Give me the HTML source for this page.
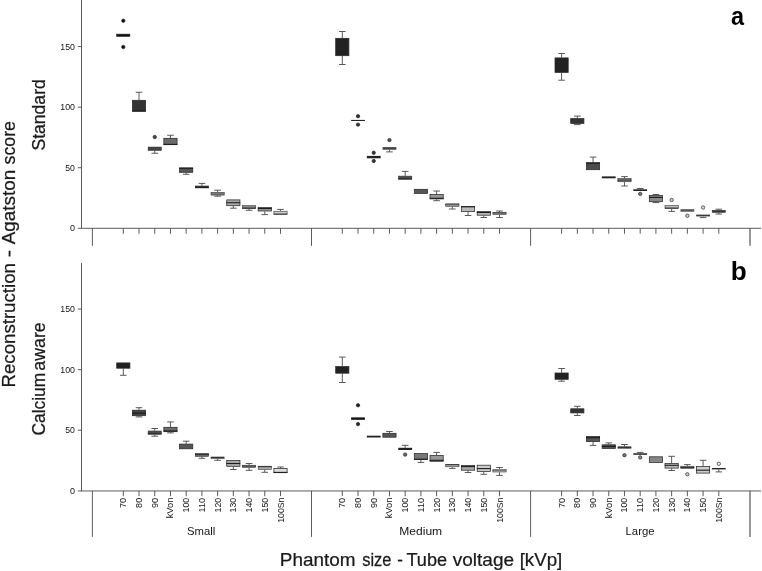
<!DOCTYPE html>
<html><head><meta charset="utf-8"><title>Figure</title>
<style>
html,body{margin:0;padding:0;background:#fff}
svg{display:block}
text{font-family:"Liberation Sans",sans-serif;fill:#222}
.a{stroke:#4a4a4a;stroke-width:0.9;fill:none}
.w{stroke:#484848;stroke-width:0.9;fill:none}
.t{fill:#151515}
.big{fill:#1a1a1a;stroke:#1a1a1a;stroke-width:0.25}
.ab{font-weight:bold;fill:#000}
</style></head><body>
<svg width="762" height="571" viewBox="0 0 762 571">
<rect width="762" height="571" fill="#fff"/>
<path d="M81.5 0V228.3H761" class="a"/>
<path d="M81.5 263V491" class="a"/>
<path d="M81 490.95H761" class="a"/>
<path d="M77.8 228.30H81.5" class="a"/>
<text transform="translate(69.94 231.40) scale(0.9580 1)" font-size="9.4" class="t">0</text>
<path d="M77.8 167.73H81.5" class="a"/>
<text transform="translate(65.25 170.83) scale(0.9273 1)" font-size="9.4" class="t">50</text>
<path d="M77.8 107.16H81.5" class="a"/>
<text transform="translate(60.24 110.26) scale(0.9373 1)" font-size="9.4" class="t">100</text>
<path d="M77.8 46.59H81.5" class="a"/>
<text transform="translate(60.24 49.69) scale(0.9373 1)" font-size="9.4" class="t">150</text>
<path d="M77.8 490.95H81.5" class="a"/>
<text transform="translate(69.94 493.90) scale(0.9580 1)" font-size="9.4" class="t">0</text>
<path d="M77.8 430.23H81.5" class="a"/>
<text transform="translate(65.25 433.33) scale(0.9273 1)" font-size="9.4" class="t">50</text>
<path d="M77.8 369.66H81.5" class="a"/>
<text transform="translate(60.24 372.76) scale(0.9373 1)" font-size="9.4" class="t">100</text>
<path d="M77.8 309.09H81.5" class="a"/>
<text transform="translate(60.24 312.19) scale(0.9373 1)" font-size="9.4" class="t">150</text>
<path d="M123.30 228.3V233.8" class="a"/>
<path d="M123.30 491V496.2" class="a"/>
<text transform="translate(126.30 507.98) rotate(-90) scale(0.9304 1)" font-size="9.8" class="t">70</text>
<path d="M139.02 228.3V233.8" class="a"/>
<path d="M139.02 491V496.2" class="a"/>
<text transform="translate(142.02 507.88) rotate(-90) scale(0.9213 1)" font-size="9.8" class="t">80</text>
<path d="M154.74 228.3V233.8" class="a"/>
<path d="M154.74 491V496.2" class="a"/>
<text transform="translate(157.74 507.93) rotate(-90) scale(0.9258 1)" font-size="9.8" class="t">90</text>
<path d="M170.46 228.3V233.8" class="a"/>
<path d="M170.46 491V496.2" class="a"/>
<text transform="translate(173.46 518.33) rotate(-90) scale(0.9521 1)" font-size="9.8" class="t">kVon</text>
<path d="M186.18 228.3V233.8" class="a"/>
<path d="M186.18 491V496.2" class="a"/>
<text transform="translate(189.18 512.46) rotate(-90) scale(0.8924 1)" font-size="9.8" class="t">100</text>
<path d="M201.90 228.3V233.8" class="a"/>
<path d="M201.90 491V496.2" class="a"/>
<text transform="translate(204.90 512.49) rotate(-90) scale(0.9377 1)" font-size="9.8" class="t">110</text>
<path d="M217.62 228.3V233.8" class="a"/>
<path d="M217.62 491V496.2" class="a"/>
<text transform="translate(220.62 512.46) rotate(-90) scale(0.8924 1)" font-size="9.8" class="t">120</text>
<path d="M233.34 228.3V233.8" class="a"/>
<path d="M233.34 491V496.2" class="a"/>
<text transform="translate(236.34 512.46) rotate(-90) scale(0.8924 1)" font-size="9.8" class="t">130</text>
<path d="M249.06 228.3V233.8" class="a"/>
<path d="M249.06 491V496.2" class="a"/>
<text transform="translate(252.06 512.46) rotate(-90) scale(0.8924 1)" font-size="9.8" class="t">140</text>
<path d="M264.78 228.3V233.8" class="a"/>
<path d="M264.78 491V496.2" class="a"/>
<text transform="translate(267.78 512.46) rotate(-90) scale(0.8924 1)" font-size="9.8" class="t">150</text>
<path d="M280.50 228.3V233.8" class="a"/>
<path d="M280.50 491V496.2" class="a"/>
<text transform="translate(283.50 522.75) rotate(-90) scale(0.8868 1)" font-size="9.8" class="t">100Sn</text>
<path d="M342.30 228.3V233.8" class="a"/>
<path d="M342.30 491V496.2" class="a"/>
<text transform="translate(345.30 507.98) rotate(-90) scale(0.9304 1)" font-size="9.8" class="t">70</text>
<path d="M358.02 228.3V233.8" class="a"/>
<path d="M358.02 491V496.2" class="a"/>
<text transform="translate(361.02 507.88) rotate(-90) scale(0.9213 1)" font-size="9.8" class="t">80</text>
<path d="M373.74 228.3V233.8" class="a"/>
<path d="M373.74 491V496.2" class="a"/>
<text transform="translate(376.74 507.93) rotate(-90) scale(0.9258 1)" font-size="9.8" class="t">90</text>
<path d="M389.46 228.3V233.8" class="a"/>
<path d="M389.46 491V496.2" class="a"/>
<text transform="translate(392.46 518.33) rotate(-90) scale(0.9521 1)" font-size="9.8" class="t">kVon</text>
<path d="M405.18 228.3V233.8" class="a"/>
<path d="M405.18 491V496.2" class="a"/>
<text transform="translate(408.18 512.46) rotate(-90) scale(0.8924 1)" font-size="9.8" class="t">100</text>
<path d="M420.90 228.3V233.8" class="a"/>
<path d="M420.90 491V496.2" class="a"/>
<text transform="translate(423.90 512.49) rotate(-90) scale(0.9377 1)" font-size="9.8" class="t">110</text>
<path d="M436.62 228.3V233.8" class="a"/>
<path d="M436.62 491V496.2" class="a"/>
<text transform="translate(439.62 512.46) rotate(-90) scale(0.8924 1)" font-size="9.8" class="t">120</text>
<path d="M452.34 228.3V233.8" class="a"/>
<path d="M452.34 491V496.2" class="a"/>
<text transform="translate(455.34 512.46) rotate(-90) scale(0.8924 1)" font-size="9.8" class="t">130</text>
<path d="M468.06 228.3V233.8" class="a"/>
<path d="M468.06 491V496.2" class="a"/>
<text transform="translate(471.06 512.46) rotate(-90) scale(0.8924 1)" font-size="9.8" class="t">140</text>
<path d="M483.78 228.3V233.8" class="a"/>
<path d="M483.78 491V496.2" class="a"/>
<text transform="translate(486.78 512.46) rotate(-90) scale(0.8924 1)" font-size="9.8" class="t">150</text>
<path d="M499.50 228.3V233.8" class="a"/>
<path d="M499.50 491V496.2" class="a"/>
<text transform="translate(502.50 522.75) rotate(-90) scale(0.8868 1)" font-size="9.8" class="t">100Sn</text>
<path d="M561.60 228.3V233.8" class="a"/>
<path d="M561.60 491V496.2" class="a"/>
<text transform="translate(564.60 507.98) rotate(-90) scale(0.9304 1)" font-size="9.8" class="t">70</text>
<path d="M577.32 228.3V233.8" class="a"/>
<path d="M577.32 491V496.2" class="a"/>
<text transform="translate(580.32 507.88) rotate(-90) scale(0.9213 1)" font-size="9.8" class="t">80</text>
<path d="M593.04 228.3V233.8" class="a"/>
<path d="M593.04 491V496.2" class="a"/>
<text transform="translate(596.04 507.93) rotate(-90) scale(0.9258 1)" font-size="9.8" class="t">90</text>
<path d="M608.76 228.3V233.8" class="a"/>
<path d="M608.76 491V496.2" class="a"/>
<text transform="translate(611.76 518.33) rotate(-90) scale(0.9521 1)" font-size="9.8" class="t">kVon</text>
<path d="M624.48 228.3V233.8" class="a"/>
<path d="M624.48 491V496.2" class="a"/>
<text transform="translate(627.48 512.46) rotate(-90) scale(0.8924 1)" font-size="9.8" class="t">100</text>
<path d="M640.20 228.3V233.8" class="a"/>
<path d="M640.20 491V496.2" class="a"/>
<text transform="translate(643.20 512.49) rotate(-90) scale(0.9377 1)" font-size="9.8" class="t">110</text>
<path d="M655.92 228.3V233.8" class="a"/>
<path d="M655.92 491V496.2" class="a"/>
<text transform="translate(658.92 512.46) rotate(-90) scale(0.8924 1)" font-size="9.8" class="t">120</text>
<path d="M671.64 228.3V233.8" class="a"/>
<path d="M671.64 491V496.2" class="a"/>
<text transform="translate(674.64 512.46) rotate(-90) scale(0.8924 1)" font-size="9.8" class="t">130</text>
<path d="M687.36 228.3V233.8" class="a"/>
<path d="M687.36 491V496.2" class="a"/>
<text transform="translate(690.36 512.46) rotate(-90) scale(0.8924 1)" font-size="9.8" class="t">140</text>
<path d="M703.08 228.3V233.8" class="a"/>
<path d="M703.08 491V496.2" class="a"/>
<text transform="translate(706.08 512.46) rotate(-90) scale(0.8924 1)" font-size="9.8" class="t">150</text>
<path d="M718.80 228.3V233.8" class="a"/>
<path d="M718.80 491V496.2" class="a"/>
<text transform="translate(721.80 522.75) rotate(-90) scale(0.8868 1)" font-size="9.8" class="t">100Sn</text>
<path d="M92.4 228.3V245.8" class="a"/>
<path d="M92.4 491V536.9" class="a"/>
<path d="M311.5 228.3V245.8" class="a"/>
<path d="M311.5 491V536.9" class="a"/>
<path d="M530.6 228.3V245.8" class="a"/>
<path d="M530.6 491V536.9" class="a"/>
<path d="M750.0 228.3V245.8" class="a" style="stroke:#555;stroke-width:1.2"/>
<path d="M750.0 491V536.9" class="a" style="stroke:#555;stroke-width:1.2"/>
<text transform="translate(187.09 534.90) scale(0.9834 1)" font-size="11.5" class="t">Small</text>
<text transform="translate(399.30 534.90) scale(1.0488 1)" font-size="11.5" class="t">Medium</text>
<text transform="translate(625.56 534.90) scale(0.9866 1)" font-size="11.5" class="t">Large</text>
<rect x="116.70" y="34.10" width="13.20" height="2.40" fill="#111" stroke="#2a2a2a" stroke-width="0.55"/>
<circle cx="123.30" cy="20.75" r="1.7" fill="#111" stroke="#2a2a2a" stroke-width="0.7"/>
<circle cx="123.30" cy="47.00" r="1.7" fill="#111" stroke="#2a2a2a" stroke-width="0.7"/>
<path d="M139.02 100.00V92.25M135.72 92.25H142.32" class="w"/>
<rect x="132.42" y="100.30" width="13.20" height="10.90" fill="#333" stroke="#2a2a2a" stroke-width="0.75"/>
<path d="M132.12 111.00H145.92" stroke="#1c1c1c" stroke-width="1.1"/>
<path d="M154.74 150.75V153.25M151.44 153.25H158.04" class="w"/>
<rect x="148.14" y="147.05" width="13.20" height="3.40" fill="#444" stroke="#2a2a2a" stroke-width="0.55"/>
<circle cx="154.74" cy="137.00" r="1.7" fill="#444" stroke="#2a2a2a" stroke-width="0.7"/>
<path d="M170.46 138.00V135.25M167.16 135.25H173.76" class="w"/>
<rect x="163.86" y="138.30" width="13.20" height="6.40" fill="#6a6a6a" stroke="#2a2a2a" stroke-width="0.75"/>
<path d="M163.56 144.40H177.36" stroke="#1c1c1c" stroke-width="1.1"/>
<path d="M186.18 172.60V174.30M182.88 174.30H189.48" class="w"/>
<rect x="179.58" y="167.90" width="13.20" height="4.40" fill="#555" stroke="#2a2a2a" stroke-width="0.75"/>
<path d="M179.28 168.30H193.08" stroke="#1c1c1c" stroke-width="1.1"/>
<path d="M201.90 185.70V183.40M198.60 183.40H205.20" class="w"/>
<rect x="195.00" y="185.70" width="13.8" height="2.50" fill="#333"/>
<path d="M195.00 187.50H208.80" stroke="#1c1c1c" stroke-width="0.8"/>
<path d="M217.62 192.20V190.20M214.32 190.20H220.92" class="w"/>
<path d="M217.62 195.40V196.20M214.32 196.20H220.92" class="w"/>
<rect x="211.02" y="192.50" width="13.20" height="2.60" fill="#777" stroke="#2a2a2a" stroke-width="0.55"/>
<path d="M233.34 206.00V208.20M230.04 208.20H236.64" class="w"/>
<rect x="226.74" y="199.90" width="13.20" height="5.80" fill="#aaa" stroke="#2a2a2a" stroke-width="0.75"/>
<path d="M226.44 202.70H240.24" stroke="#1c1c1c" stroke-width="1.1"/>
<path d="M249.06 208.90V210.30M245.76 210.30H252.36" class="w"/>
<rect x="242.46" y="205.70" width="13.20" height="2.90" fill="#888" stroke="#2a2a2a" stroke-width="0.55"/>
<path d="M242.16 208.10H255.96" stroke="#1c1c1c" stroke-width="0.8"/>
<path d="M264.78 211.30V214.60M261.48 214.60H268.08" class="w"/>
<rect x="258.18" y="207.50" width="13.20" height="3.50" fill="#999" stroke="#2a2a2a" stroke-width="0.75"/>
<path d="M257.88 208.50H271.68" stroke="#1c1c1c" stroke-width="1.1"/>
<path d="M280.50 210.90V209.40M277.20 209.40H283.80" class="w"/>
<rect x="273.90" y="211.20" width="13.20" height="3.10" fill="#ccc" stroke="#2a2a2a" stroke-width="0.55"/>
<path d="M273.60 214.00H287.40" stroke="#1c1c1c" stroke-width="0.8"/>
<path d="M342.30 38.00V31.50M339.00 31.50H345.60" class="w"/>
<path d="M342.30 56.00V64.50M339.00 64.50H345.60" class="w"/>
<rect x="335.70" y="38.30" width="13.20" height="17.40" fill="#222" stroke="#2a2a2a" stroke-width="0.75"/>
<rect x="351.12" y="119.90" width="13.8" height="1.10" fill="#222"/>
<circle cx="358.02" cy="116.20" r="1.7" fill="#333" stroke="#2a2a2a" stroke-width="0.7"/>
<circle cx="358.02" cy="124.60" r="1.7" fill="#333" stroke="#2a2a2a" stroke-width="0.7"/>
<rect x="366.84" y="155.90" width="13.8" height="2.40" fill="#222"/>
<circle cx="373.74" cy="152.80" r="1.7" fill="#333" stroke="#2a2a2a" stroke-width="0.7"/>
<circle cx="373.74" cy="161.00" r="1.7" fill="#333" stroke="#2a2a2a" stroke-width="0.7"/>
<path d="M389.46 149.70V151.90M386.16 151.90H392.76" class="w"/>
<rect x="382.56" y="147.10" width="13.8" height="2.60" fill="#444"/>
<circle cx="389.46" cy="140.10" r="1.7" fill="#555" stroke="#2a2a2a" stroke-width="0.7"/>
<path d="M405.18 175.80V171.40M401.88 171.40H408.48" class="w"/>
<rect x="398.58" y="176.10" width="13.20" height="3.40" fill="#555" stroke="#2a2a2a" stroke-width="0.55"/>
<path d="M398.28 178.30H412.08" stroke="#1c1c1c" stroke-width="0.8"/>
<rect x="414.30" y="189.30" width="13.20" height="4.10" fill="#555" stroke="#2a2a2a" stroke-width="0.75"/>
<path d="M436.62 194.20V191.00M433.32 191.00H439.92" class="w"/>
<path d="M436.62 199.20V200.70M433.32 200.70H439.92" class="w"/>
<rect x="430.02" y="194.50" width="13.20" height="4.40" fill="#999" stroke="#2a2a2a" stroke-width="0.75"/>
<path d="M429.72 198.30H443.52" stroke="#1c1c1c" stroke-width="1.1"/>
<path d="M452.34 206.80V209.00M449.04 209.00H455.64" class="w"/>
<rect x="445.74" y="203.80" width="13.20" height="2.70" fill="#bbb" stroke="#2a2a2a" stroke-width="0.55"/>
<path d="M445.44 204.80H459.24" stroke="#1c1c1c" stroke-width="0.8"/>
<path d="M468.06 211.80V215.50M464.76 215.50H471.36" class="w"/>
<rect x="461.46" y="206.40" width="13.20" height="5.10" fill="#bbb" stroke="#2a2a2a" stroke-width="0.75"/>
<path d="M461.16 206.80H474.96" stroke="#1c1c1c" stroke-width="1.1"/>
<path d="M483.78 215.50V217.50M480.48 217.50H487.08" class="w"/>
<rect x="477.18" y="211.60" width="13.20" height="3.60" fill="#bbb" stroke="#2a2a2a" stroke-width="0.75"/>
<path d="M476.88 212.50H490.68" stroke="#1c1c1c" stroke-width="1.1"/>
<path d="M499.50 212.00V211.00M496.20 211.00H502.80" class="w"/>
<path d="M499.50 214.80V217.50M496.20 217.50H502.80" class="w"/>
<rect x="492.90" y="212.30" width="13.20" height="2.20" fill="#bbb" stroke="#2a2a2a" stroke-width="0.55"/>
<path d="M492.60 213.10H506.40" stroke="#1c1c1c" stroke-width="0.8"/>
<path d="M561.60 57.60V53.50M558.30 53.50H564.90" class="w"/>
<path d="M561.60 72.70V80.20M558.30 80.20H564.90" class="w"/>
<rect x="555.00" y="57.90" width="13.20" height="14.50" fill="#222" stroke="#2a2a2a" stroke-width="0.75"/>
<path d="M577.32 118.30V116.10M574.02 116.10H580.62" class="w"/>
<path d="M577.32 123.80V124.60M574.02 124.60H580.62" class="w"/>
<rect x="570.72" y="118.60" width="13.20" height="4.90" fill="#333" stroke="#2a2a2a" stroke-width="0.75"/>
<path d="M593.04 162.40V157.10M589.74 157.10H596.34" class="w"/>
<rect x="586.44" y="162.70" width="13.20" height="7.00" fill="#4a4a4a" stroke="#2a2a2a" stroke-width="0.75"/>
<path d="M586.14 163.20H599.94" stroke="#1c1c1c" stroke-width="1.1"/>
<rect x="601.86" y="176.40" width="13.8" height="1.90" fill="#222"/>
<path d="M624.48 178.30V176.60M621.18 176.60H627.78" class="w"/>
<path d="M624.48 182.10V186.00M621.18 186.00H627.78" class="w"/>
<rect x="617.88" y="178.60" width="13.20" height="3.20" fill="#888" stroke="#2a2a2a" stroke-width="0.55"/>
<path d="M617.58 180.10H631.38" stroke="#1c1c1c" stroke-width="0.8"/>
<path d="M640.20 189.30V188.50M636.90 188.50H643.50" class="w"/>
<rect x="633.30" y="189.30" width="13.8" height="1.70" fill="#222"/>
<circle cx="640.20" cy="193.90" r="1.7" fill="#777" stroke="#2a2a2a" stroke-width="0.7"/>
<path d="M655.92 195.20V194.50M652.62 194.50H659.22" class="w"/>
<path d="M655.92 202.00V202.60M652.62 202.60H659.22" class="w"/>
<rect x="649.32" y="195.50" width="13.20" height="6.20" fill="#888" stroke="#2a2a2a" stroke-width="0.75"/>
<path d="M649.02 197.40H662.82" stroke="#1c1c1c" stroke-width="1.1"/>
<path d="M671.64 209.00V211.40M668.34 211.40H674.94" class="w"/>
<rect x="665.04" y="205.60" width="13.20" height="3.10" fill="#bbb" stroke="#2a2a2a" stroke-width="0.55"/>
<path d="M664.74 208.00H678.54" stroke="#1c1c1c" stroke-width="0.8"/>
<circle cx="671.64" cy="200.00" r="1.7" fill="#ccc" stroke="#2a2a2a" stroke-width="0.7"/>
<rect x="680.46" y="209.20" width="13.8" height="2.50" fill="#555"/>
<circle cx="687.36" cy="215.80" r="1.7" fill="#ccc" stroke="#2a2a2a" stroke-width="0.7"/>
<path d="M703.08 216.70V217.60M699.78 217.60H706.38" class="w"/>
<rect x="696.18" y="214.50" width="13.8" height="2.20" fill="#888"/>
<path d="M696.18 215.40H709.98" stroke="#1c1c1c" stroke-width="0.8"/>
<circle cx="703.08" cy="207.50" r="1.7" fill="#ddd" stroke="#2a2a2a" stroke-width="0.7"/>
<path d="M718.80 210.00V209.20M715.50 209.20H722.10" class="w"/>
<path d="M718.80 212.70V214.00M715.50 214.00H722.10" class="w"/>
<rect x="712.20" y="210.30" width="13.20" height="2.10" fill="#3a3a3a" stroke="#2a2a2a" stroke-width="0.55"/>
<path d="M123.30 368.50V375.30M120.00 375.30H126.60" class="w"/>
<rect x="116.70" y="362.90" width="13.20" height="5.30" fill="#222" stroke="#2a2a2a" stroke-width="0.75"/>
<path d="M139.02 409.90V407.70M135.72 407.70H142.32" class="w"/>
<path d="M139.02 416.00V416.90M135.72 416.90H142.32" class="w"/>
<rect x="132.42" y="410.20" width="13.20" height="5.50" fill="#444" stroke="#2a2a2a" stroke-width="0.75"/>
<path d="M132.12 413.20H145.92" stroke="#1c1c1c" stroke-width="1.1"/>
<path d="M154.74 430.70V428.50M151.44 428.50H158.04" class="w"/>
<path d="M154.74 434.70V436.20M151.44 436.20H158.04" class="w"/>
<rect x="148.14" y="431.00" width="13.20" height="3.40" fill="#555" stroke="#2a2a2a" stroke-width="0.55"/>
<path d="M147.84 433.30H161.64" stroke="#1c1c1c" stroke-width="0.8"/>
<path d="M170.46 427.00V421.90M167.16 421.90H173.76" class="w"/>
<path d="M170.46 432.00V432.90M167.16 432.90H173.76" class="w"/>
<rect x="163.86" y="427.30" width="13.20" height="4.40" fill="#6a6a6a" stroke="#2a2a2a" stroke-width="0.75"/>
<path d="M163.56 431.00H177.36" stroke="#1c1c1c" stroke-width="1.1"/>
<path d="M186.18 443.80V441.20M182.88 441.20H189.48" class="w"/>
<rect x="179.58" y="444.10" width="13.20" height="4.70" fill="#555" stroke="#2a2a2a" stroke-width="0.75"/>
<path d="M201.90 456.70V458.30M198.60 458.30H205.20" class="w"/>
<rect x="195.30" y="453.60" width="13.20" height="2.80" fill="#666" stroke="#2a2a2a" stroke-width="0.55"/>
<path d="M195.00 454.30H208.80" stroke="#1c1c1c" stroke-width="0.8"/>
<path d="M217.62 458.70V460.30M214.32 460.30H220.92" class="w"/>
<rect x="210.72" y="456.70" width="13.8" height="2.00" fill="#333"/>
<path d="M233.34 466.60V469.50M230.04 469.50H236.64" class="w"/>
<rect x="226.74" y="460.50" width="13.20" height="5.80" fill="#aaa" stroke="#2a2a2a" stroke-width="0.75"/>
<path d="M226.44 463.50H240.24" stroke="#1c1c1c" stroke-width="1.1"/>
<path d="M249.06 464.90V463.50M245.76 463.50H252.36" class="w"/>
<path d="M249.06 467.70V470.30M245.76 470.30H252.36" class="w"/>
<rect x="242.46" y="465.20" width="13.20" height="2.20" fill="#999" stroke="#2a2a2a" stroke-width="0.55"/>
<path d="M242.16 466.20H255.96" stroke="#1c1c1c" stroke-width="0.8"/>
<path d="M264.78 469.70V472.30M261.48 472.30H268.08" class="w"/>
<rect x="258.18" y="466.20" width="13.20" height="3.20" fill="#aaa" stroke="#2a2a2a" stroke-width="0.55"/>
<path d="M257.88 466.70H271.68" stroke="#1c1c1c" stroke-width="0.8"/>
<path d="M280.50 468.20V467.00M277.20 467.00H283.80" class="w"/>
<rect x="273.90" y="468.50" width="13.20" height="4.20" fill="#ddd" stroke="#2a2a2a" stroke-width="0.75"/>
<path d="M273.60 472.40H287.40" stroke="#1c1c1c" stroke-width="1.1"/>
<path d="M342.30 366.30V357.10M339.00 357.10H345.60" class="w"/>
<path d="M342.30 373.50V382.50M339.00 382.50H345.60" class="w"/>
<rect x="335.70" y="366.60" width="13.20" height="6.60" fill="#222" stroke="#2a2a2a" stroke-width="0.75"/>
<rect x="351.12" y="417.40" width="13.8" height="2.40" fill="#111"/>
<circle cx="358.02" cy="405.30" r="1.7" fill="#222" stroke="#2a2a2a" stroke-width="0.7"/>
<circle cx="358.02" cy="424.10" r="1.7" fill="#222" stroke="#2a2a2a" stroke-width="0.7"/>
<rect x="366.84" y="435.70" width="13.8" height="1.80" fill="#222"/>
<path d="M389.46 433.00V431.50M386.16 431.50H392.76" class="w"/>
<rect x="382.86" y="433.30" width="13.20" height="3.90" fill="#555" stroke="#2a2a2a" stroke-width="0.75"/>
<path d="M405.18 447.80V445.30M401.88 445.30H408.48" class="w"/>
<rect x="398.28" y="447.80" width="13.8" height="2.20" fill="#222"/>
<circle cx="405.18" cy="454.60" r="1.7" fill="#666" stroke="#2a2a2a" stroke-width="0.7"/>
<path d="M420.90 459.80V462.40M417.60 462.40H424.20" class="w"/>
<rect x="414.30" y="453.60" width="13.20" height="5.90" fill="#777" stroke="#2a2a2a" stroke-width="0.75"/>
<path d="M414.00 459.20H427.80" stroke="#1c1c1c" stroke-width="1.1"/>
<path d="M436.62 455.20V452.40M433.32 452.40H439.92" class="w"/>
<rect x="430.02" y="455.50" width="13.20" height="5.80" fill="#999" stroke="#2a2a2a" stroke-width="0.75"/>
<path d="M429.72 460.30H443.52" stroke="#1c1c1c" stroke-width="1.1"/>
<path d="M452.34 467.10V468.40M449.04 468.40H455.64" class="w"/>
<rect x="445.74" y="464.30" width="13.20" height="2.50" fill="#bbb" stroke="#2a2a2a" stroke-width="0.55"/>
<path d="M445.44 464.80H459.24" stroke="#1c1c1c" stroke-width="0.8"/>
<path d="M468.06 470.50V472.50M464.76 472.50H471.36" class="w"/>
<rect x="461.46" y="465.40" width="13.20" height="4.80" fill="#aaa" stroke="#2a2a2a" stroke-width="0.75"/>
<path d="M461.16 466.60H474.96" stroke="#1c1c1c" stroke-width="1.1"/>
<path d="M483.78 471.90V474.30M480.48 474.30H487.08" class="w"/>
<rect x="477.18" y="465.20" width="13.20" height="6.40" fill="#ccc" stroke="#2a2a2a" stroke-width="0.75"/>
<path d="M476.88 468.60H490.68" stroke="#1c1c1c" stroke-width="1.1"/>
<path d="M499.50 469.20V467.50M496.20 467.50H502.80" class="w"/>
<path d="M499.50 472.30V475.40M496.20 475.40H502.80" class="w"/>
<rect x="492.90" y="469.50" width="13.20" height="2.50" fill="#eee" stroke="#2a2a2a" stroke-width="0.55"/>
<path d="M492.60 470.80H506.40" stroke="#1c1c1c" stroke-width="0.8"/>
<path d="M561.60 372.70V368.50M558.30 368.50H564.90" class="w"/>
<path d="M561.60 379.60V381.20M558.30 381.20H564.90" class="w"/>
<rect x="555.00" y="373.00" width="13.20" height="6.30" fill="#222" stroke="#2a2a2a" stroke-width="0.75"/>
<path d="M577.32 408.50V406.30M574.02 406.30H580.62" class="w"/>
<path d="M577.32 413.20V415.50M574.02 415.50H580.62" class="w"/>
<rect x="570.72" y="408.80" width="13.20" height="4.10" fill="#333" stroke="#2a2a2a" stroke-width="0.75"/>
<path d="M593.04 441.90V445.40M589.74 445.40H596.34" class="w"/>
<rect x="586.44" y="436.40" width="13.20" height="5.20" fill="#555" stroke="#2a2a2a" stroke-width="0.75"/>
<path d="M586.14 437.70H599.94" stroke="#1c1c1c" stroke-width="1.1"/>
<path d="M608.76 444.50V442.90M605.46 442.90H612.06" class="w"/>
<rect x="602.16" y="444.80" width="13.20" height="3.60" fill="#555" stroke="#2a2a2a" stroke-width="0.75"/>
<path d="M601.86 446.40H615.66" stroke="#1c1c1c" stroke-width="1.1"/>
<path d="M624.48 446.40V444.50M621.18 444.50H627.78" class="w"/>
<rect x="617.58" y="446.40" width="13.8" height="2.20" fill="#333"/>
<circle cx="624.48" cy="455.20" r="1.7" fill="#777" stroke="#2a2a2a" stroke-width="0.7"/>
<path d="M640.20 453.30V452.40M636.90 452.40H643.50" class="w"/>
<rect x="633.30" y="453.30" width="13.8" height="1.50" fill="#222"/>
<circle cx="640.20" cy="457.40" r="1.7" fill="#888" stroke="#2a2a2a" stroke-width="0.7"/>
<rect x="649.32" y="456.80" width="13.20" height="5.60" fill="#888" stroke="#2a2a2a" stroke-width="0.75"/>
<path d="M671.64 463.30V456.30M668.34 456.30H674.94" class="w"/>
<path d="M671.64 468.40V470.50M668.34 470.50H674.94" class="w"/>
<rect x="665.04" y="463.60" width="13.20" height="4.50" fill="#bbb" stroke="#2a2a2a" stroke-width="0.75"/>
<path d="M664.74 465.30H678.54" stroke="#1c1c1c" stroke-width="1.1"/>
<path d="M687.36 465.90V464.60M684.06 464.60H690.66" class="w"/>
<rect x="680.76" y="466.20" width="13.20" height="2.10" fill="#888" stroke="#2a2a2a" stroke-width="0.55"/>
<path d="M680.46 467.50H694.26" stroke="#1c1c1c" stroke-width="0.8"/>
<circle cx="687.36" cy="474.30" r="1.7" fill="#ccc" stroke="#2a2a2a" stroke-width="0.7"/>
<path d="M703.08 466.30V460.30M699.78 460.30H706.38" class="w"/>
<rect x="696.48" y="466.60" width="13.20" height="6.50" fill="#ccc" stroke="#2a2a2a" stroke-width="0.75"/>
<path d="M696.18 470.20H709.98" stroke="#1c1c1c" stroke-width="1.1"/>
<path d="M718.80 469.40V471.90M715.50 471.90H722.10" class="w"/>
<rect x="711.90" y="468.00" width="13.8" height="1.40" fill="#222"/>
<circle cx="718.80" cy="463.80" r="1.7" fill="#eee" stroke="#2a2a2a" stroke-width="0.7"/>
<text transform="translate(279.84 565.60) scale(1.0113 1)" font-size="18.7" class="big">Phantom</text>
<text transform="translate(362.25 565.60) scale(0.8769 1)" font-size="18.7" class="big">size</text>
<text transform="translate(397.34 565.60) scale(0.9041 1)" font-size="18.7" class="big">-</text>
<text transform="translate(406.49 565.60) scale(0.9687 1)" font-size="18.7" class="big">Tube</text>
<text transform="translate(452.81 565.60) scale(1.0156 1)" font-size="18.7" class="big">voltage</text>
<text transform="translate(519.64 565.60) scale(1.0019 1)" font-size="18.7" class="big">[kVp]</text>
<text transform="translate(14.70 387.54) rotate(-90) scale(0.9986 1)" font-size="18.7" class="big">Reconstruction</text>
<text transform="translate(14.70 257.18) rotate(-90) scale(1.1688 1)" font-size="18.7" class="big">-</text>
<text transform="translate(14.70 244.25) rotate(-90) scale(1.0095 1)" font-size="18.7" class="big">Agatston</text>
<text transform="translate(14.70 164.39) rotate(-90) scale(0.9479 1)" font-size="18.7" class="big">score</text>
<text transform="translate(45.00 150.49) rotate(-90) scale(1.0040 1)" font-size="17.5" class="big">Standard</text>
<text transform="translate(45.10 435.57) rotate(-90) scale(0.9950 1)" font-size="17.5" class="big">Calcium</text>
<text transform="translate(45.10 370.65) rotate(-90) scale(1.0139 1)" font-size="17.5" class="big">aware</text>
<text transform="translate(731.10 24.60) scale(0.8858 1)" font-size="26.5" class="ab">a</text>
<text transform="translate(730.70 280.30) scale(1.0291 1)" font-size="25.4" class="ab">b</text>
</svg>
</body></html>
